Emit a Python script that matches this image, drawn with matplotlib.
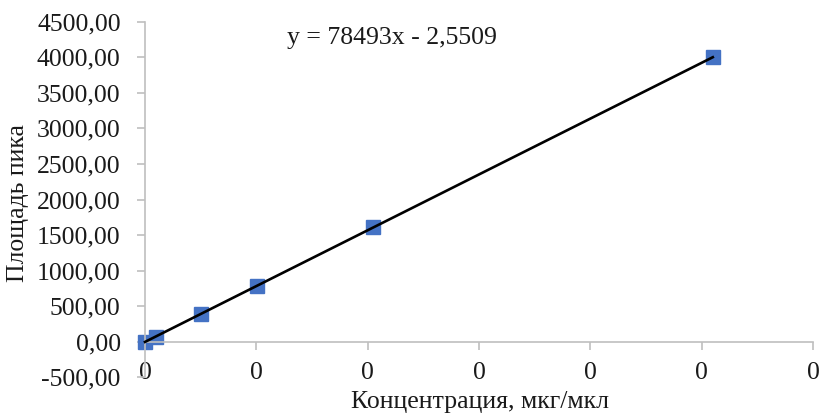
import numpy as np
import matplotlib
matplotlib.use("Agg")
import matplotlib.pyplot as plt
from matplotlib.ticker import FuncFormatter, MultipleLocator

# Calibration data
conc = [0.0, 0.001, 0.005, 0.0101, 0.0205, 0.051]
area = [0.0, 70.0, 390.0, 785.0, 1610.0, 4000.0]

# Linear trendline shown on the chart
slope = 78493
intercept = -2.5509
equation = "y = 78493x - 2,5509"

x_ticks = [0.0, 0.01, 0.02, 0.03, 0.04, 0.05, 0.06]

plt.rcParams["font.family"] = ["Liberation Serif", "DejaVu Serif"]

fig = plt.figure(figsize=(8.21, 4.13), dpi=100)
ax = fig.add_axes([145 / 821, 1 - 377.3 / 413, (813 - 145) / 821, (377.3 - 21.7) / 413])

# Trendline from first to last point
x_line = np.array([min(conc), max(conc)])
ax.plot(x_line, slope * x_line + intercept, color="black", linewidth=1.9, zorder=3,
        clip_on=False)
ax.plot(conc, area, linestyle="none", marker="s", markersize=10.5,
        color="#4472C4", zorder=2, clip_on=False)

ax.set_xlim(0, 0.06)
ax.set_ylim(-500, 4500)
ax.set_xticks(x_ticks)
ax.yaxis.set_major_locator(MultipleLocator(500))
ax.xaxis.set_major_formatter(FuncFormatter(lambda v, p: f"{v:.0f}"))
ax.yaxis.set_major_formatter(FuncFormatter(lambda v, p: f"{v:.2f}".replace(".", ",")))

for side in ["top", "right"]:
    ax.spines[side].set_visible(False)
ax.spines["bottom"].set_position(("data", 0))
for side in ["bottom", "left"]:
    ax.spines[side].set_color("#bfbfbf")
    ax.spines[side].set_linewidth(1.2)

ax.tick_params(axis="both", direction="out", length=5.5, width=1.2,
               color="#bfbfbf", labelsize=18.5, labelcolor="#1a1a1a")
ax.tick_params(axis="y", pad=12)
ax.tick_params(axis="x", pad=9)

ax.text(0.37, 0.955, equation, transform=ax.transAxes, ha="center", va="center",
        fontsize=18.5, color="#1a1a1a")

fig.text(18 / 821, 1 - 203 / 413, "Площадь пика", rotation=90, ha="center", va="center",
         fontsize=18.5, color="#1a1a1a")
fig.text(480 / 821, 1 - 402 / 413, "Концентрация, мкг/мкл", ha="center", va="center",
         fontsize=18.5, color="#1a1a1a")

fig.savefig("out.png", dpi=100)
